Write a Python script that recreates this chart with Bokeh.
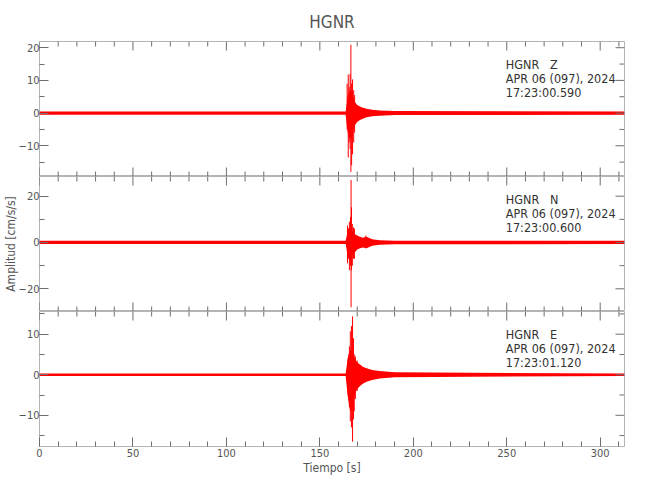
from bokeh.plotting import figure
from bokeh.models import LinearAxis, SingleIntervalTicker, Range1d, Label
from bokeh.layouts import column
from bokeh.embed import file_html
from bokeh.resources import INLINE

# ---------------- data ----------------
station = "HGNR"
components = ["Z", "N", "E"]
date_label = "APR 06 (097), 2024"
start_times = ["17:23:00.590", "17:23:00.600", "17:23:01.120"]

# y-limits of each panel
z_ylim = [-19.4, 21.9]
n_ylim = [-29.8, 28.5]
e_ylim = [-17.7, 15.6]
y_tick_step = [10, 20, 10]
x_tick_step = 50
x_minor_step = 10
x_max = 313.0

# envelope of the trace (time in s, upper and lower amplitude)
env_t = [0.0, 163.8, 164.3, 164.8, 165.3, 165.8, 166.3, 166.8, 167.3, 167.8,
         168.3, 169.0, 170.0, 171.5, 173.0, 175.0, 178.0, 182.0, 190.0, 313.0]
z_hi = [0.5, 0.5, 2.5, 5.0, 6.0, 6.5, 7.0, 6.5, 6.0, 5.0,
        4.0, 3.2, 2.5, 2.0, 1.6, 1.3, 1.0, 0.8, 0.6, 0.5]
z_lo = [-0.5, -0.5, -3.0, -5.5, -7.0, -7.5, -8.0, -7.5, -7.0, -5.5,
        -4.5, -3.5, -2.7, -2.1, -1.7, -1.3, -1.0, -0.8, -0.6, -0.5]
n_hi = [0.7, 0.7, 2.5, 5.0, 6.0, 6.5, 6.5, 6.0, 5.0, 4.5,
        4.0, 3.5, 3.0, 2.5, 2.0, 2.5, 1.4, 1.0, 0.8, 0.7]
n_lo = [-0.7, -0.7, -3.0, -6.0, -7.0, -7.5, -7.5, -7.0, -6.0, -5.0,
        -4.5, -4.0, -3.0, -2.5, -2.2, -2.5, -1.4, -1.0, -0.8, -0.7]
e_hi = [0.3, 0.3, 2.0, 3.8, 5.0, 5.5, 6.0, 6.0, 5.7, 5.0,
        4.5, 3.8, 3.0, 2.5, 2.0, 1.6, 1.2, 0.9, 0.6, 0.3]
e_lo = [-0.3, -0.3, -2.5, -4.9, -6.5, -8.0, -9.0, -9.0, -8.5, -7.5,
        -6.0, -4.5, -3.5, -2.8, -2.2, -1.7, -1.3, -0.9, -0.6, -0.3]

# individual large swings (time, max, min)
z_spk_t = [164.6, 165.2, 165.7, 166.2, 166.6, 167.0, 167.5, 168.1, 168.6, 173.7]
z_spk_hi = [9.0, 11.8, 8.0, 12.0, 20.9, 9.0, 10.3, 7.0, 5.5, 1.6]
z_spk_lo = [-5.0, -13.6, -9.0, -11.0, -18.0, -16.0, -12.6, -9.0, -6.0, -1.2]
n_spk_t = [164.8, 165.3, 165.8, 166.4, 166.7, 166.9, 167.4, 168.0, 168.5, 174.6]
n_spk_hi = [7.3, 6.0, 9.0, 11.0, 27.0, 15.2, 8.0, 6.5, 6.0, 3.0]
n_spk_lo = [-9.0, -5.6, -12.0, -10.0, -28.0, -12.0, -10.0, -7.0, -7.0, -2.5]
e_spk_t = [165.2, 165.8, 166.3, 166.9, 167.5, 168.0, 168.4, 169.0, 170.0]
e_spk_hi = [3.8, 7.0, 10.7, 12.0, 14.4, 9.0, 5.0, 4.5, 3.5]
e_spk_lo = [-4.9, -8.0, -11.5, -13.0, -16.5, -11.0, -9.0, -6.0, -4.0]
# ---------------------------------------------------------------

FONT = "DejaVu Sans Condensed, Liberation Sans, sans-serif"
RED = "#ff0000"
FRAME = "#b4b4b4"
TICK = "#6e6e6e"
LABEL = "#555555"
FRAME_W = 585
FRAME_H = 135
MAJ_LEN = 9
MIN_LEN = 5

x_range = Range1d(0, x_max)


def style_axis(ax):
    ax.axis_line_color = None
    ax.major_tick_line_color = TICK
    ax.minor_tick_line_color = TICK
    ax.major_tick_in = MAJ_LEN
    ax.major_tick_out = 0
    ax.minor_tick_in = MIN_LEN
    ax.minor_tick_out = 0
    ax.major_label_text_font = FONT
    ax.major_label_text_color = LABEL
    ax.major_label_text_font_size = "11px"
    ax.axis_label_text_font = FONT
    ax.axis_label_text_font_style = "normal"
    ax.axis_label_text_color = LABEL


def panel(i, ylim, hi, lo, st, sh, sl, top, bottom):
    p = figure(frame_width=FRAME_W, frame_height=FRAME_H, x_range=x_range,
               y_range=Range1d(ylim[0], ylim[1]),
               output_backend="svg", toolbar_location=None,
               min_border_left=32, min_border_right=17,
               min_border_top=32 if top else 0,
               min_border_bottom=40 if bottom else 0,
               x_axis_location=None, y_axis_location=None)
    p.xgrid.visible = False
    p.ygrid.visible = False
    p.outline_line_color = FRAME
    p.outline_line_width = 1
    p.background_fill_color = "white"
    p.border_fill_color = "white"

    step = y_tick_step[i]
    yt = SingleIntervalTicker(interval=step, num_minor_ticks=2)
    xt = SingleIntervalTicker(interval=x_tick_step, num_minor_ticks=5)

    left = LinearAxis(ticker=yt)
    style_axis(left)
    left.major_label_standoff = 0
    if i == 1:
        left.axis_label = "Amplitud [cm/s/s]"
        left.axis_label_text_font_size = "12px"
        left.axis_label_standoff = -2
    p.add_layout(left, "left")
    if bottom:
        below = LinearAxis(ticker=xt)
        style_axis(below)
        below.major_label_standoff = 2
        below.axis_label = "Tiempo [s]"
        below.axis_label_text_font_size = "12px"
        below.axis_label_standoff = 1
        p.add_layout(below, "below")

    # the trace
    p.varea(x=env_t, y1=lo, y2=hi, fill_color=RED, fill_alpha=1.0)
    p.segment(x0=st, y0=sl, x1=st, y1=sh, line_color=RED, line_width=1)

    # unlabeled tick marks on the other sides of the box
    span = ylim[1] - ylim[0]
    dy = span / FRAME_H
    dx = x_max / FRAME_W
    xs = list(range(0, int(x_max) + 1, x_minor_step))
    xl = [MAJ_LEN if v % x_tick_step == 0 else MIN_LEN for v in xs]
    tx0 = xs
    ty0 = [ylim[1]] * len(xs)
    ty1 = [ylim[1] - L * dy for L in xl]
    p.segment(x0=tx0, y0=ty0, x1=tx0, y1=ty1, line_color=TICK, line_width=1)
    if not bottom:
        by0 = [ylim[0]] * len(xs)
        by1 = [ylim[0] + L * dy for L in xl]
        p.segment(x0=tx0, y0=by0, x1=tx0, y1=by1, line_color=TICK, line_width=1)
    half = step / 2
    k0 = int(ylim[0] // half) + 1
    k1 = int(ylim[1] // half)
    ys = [k * half for k in range(k0, k1 + 1)]
    yl = [MAJ_LEN if k % 2 == 0 else MIN_LEN for k in range(k0, k1 + 1)]
    rx0 = [x_max] * len(ys)
    rx1 = [x_max - L * dx for L in yl]
    p.segment(x0=rx0, y0=ys, x1=rx1, y1=ys, line_color=TICK, line_width=1)

    if top:
        p.title.text = station
        p.title.align = "center"
        p.title.text_font = FONT
        p.title.text_font_size = "17px"
        p.title.text_font_style = "normal"
        p.title.text_color = LABEL
        p.title.standoff = 10.5
        p.title.padding = 4

    lines = [f"{station}\u00a0\u00a0\u00a0{components[i]}", date_label, start_times[i]]
    for k, txt in enumerate(lines):
        off = 22.5 + 14.3 * k
        p.add_layout(Label(x=249.5, y=ylim[1] - off * dy,
                           text=txt, text_font=FONT, text_font_size="12.5px",
                           text_color="#333333", text_baseline="middle",
                           text_align="left"))
    return p


p1 = panel(0, z_ylim, z_hi, z_lo, z_spk_t, z_spk_hi, z_spk_lo, True, False)
p2 = panel(1, n_ylim, n_hi, n_lo, n_spk_t, n_spk_hi, n_spk_lo, False, False)
p3 = panel(2, e_ylim, e_hi, e_lo, e_spk_t, e_spk_hi, e_spk_lo, False, True)

layout = column(p1, p2, p3, spacing=0)
open("out.html", "w").write(file_html(layout, INLINE))
